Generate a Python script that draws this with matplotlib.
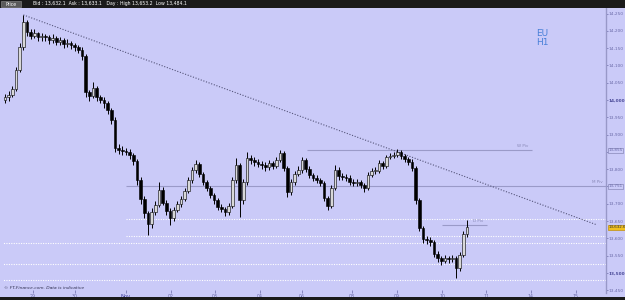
import numpy as np
import matplotlib
matplotlib.use("Agg")
import matplotlib.pyplot as plt
from matplotlib.patches import Rectangle
from matplotlib.transforms import blended_transform_factory

# ----------------------------
# Data (EU, H1 candles, prices x 1e-5)
# ----------------------------
FIRST_OPEN = 14000
closes = [14009, 14014, 14032, 14087, 14153, 14225, 14196, 14185, 14194, 14182,
          14185, 14182, 14173, 14179, 14168, 14173, 14162, 14165, 14159, 14153,
          14145, 14127, 14023, 14012, 14035, 14009, 14000, 13991, 13971, 13942,
          13861, 13855, 13853, 13850, 13841, 13824, 13769, 13714, 13673, 13642,
          13676, 13697, 13740, 13702, 13679, 13659, 13682, 13699, 13714, 13737,
          13769, 13798, 13815, 13786, 13763, 13746, 13725, 13711, 13691, 13685,
          13676, 13694, 13769, 13812, 13711, 13763, 13832, 13827, 13821, 13815,
          13812, 13806, 13818, 13809, 13827, 13847, 13803, 13734, 13763, 13786,
          13798, 13827, 13801, 13783, 13775, 13769, 13760, 13717, 13694, 13746,
          13798, 13780, 13777, 13775, 13763, 13760, 13763, 13754, 13746, 13783,
          13795, 13795, 13818, 13809, 13835, 13838, 13841, 13850, 13838, 13829,
          13821, 13803, 13711, 13630, 13598, 13595, 13590, 13555, 13543, 13535,
          13543, 13540, 13543, 13514, 13552, 13613, 13633]
highs = [14018, 14025, 14040, 14095, 14165, 14246, 14230, 14205, 14205, 14198,
         14195, 14192, 14188, 14190, 14185, 14182, 14178, 14176, 14170, 14165,
         14160, 14152, 14132, 14030, 14052, 14040, 14015, 14008, 13998, 13978,
         13950, 13872, 13866, 13862, 13858, 13848, 13830, 13778, 13722, 13680,
         13688, 13708, 13763, 13748, 13710, 13688, 13692, 13708, 13722, 13745,
         13778, 13806, 13827, 13820, 13792, 13770, 13752, 13732, 13718, 13698,
         13690, 13702, 13778, 13832, 13818, 13772, 13850, 13842, 13835, 13828,
         13825, 13820, 13826, 13824, 13835, 13855, 13852, 13810, 13772, 13795,
         13808, 13836, 13832, 13808, 13790, 13782, 13775, 13766, 13722, 13755,
         13812, 13805, 13790, 13786, 13782, 13772, 13772, 13768, 13760, 13792,
         13803, 13806, 13826, 13824, 13842, 13848, 13850, 13858, 13855, 13845,
         13835, 13828, 13808, 13716, 13636, 13608, 13603, 13596, 13562, 13550,
         13552, 13550, 13553, 13550, 13560, 13620, 13653]
lows = [13992, 13998, 14008, 14025, 14080, 14145, 14185, 14175, 14178, 14170,
        14172, 14170, 14162, 14165, 14158, 14160, 14150, 14152, 14148, 14142,
        14135, 14115, 14010, 13998, 14005, 13998, 13990, 13978, 13960, 13930,
        13850, 13845, 13842, 13840, 13830, 13812, 13755, 13700, 13660, 13610,
        13630, 13668, 13690, 13695, 13668, 13639, 13650, 13675, 13690, 13708,
        13730, 13760, 13790, 13778, 13755, 13738, 13716, 13700, 13682, 13675,
        13665, 13668, 13688, 13760, 13662, 13700, 13755, 13815, 13810, 13805,
        13800, 13795, 13798, 13800, 13802, 13820, 13795, 13720, 13726, 13755,
        13780, 13790, 13792, 13775, 13765, 13760, 13750, 13708, 13682, 13688,
        13740, 13770, 13768, 13765, 13755, 13750, 13752, 13745, 13735, 13740,
        13776, 13785, 13788, 13800, 13803, 13828, 13832, 13835, 13830, 13820,
        13812, 13795, 13700, 13620, 13588, 13585, 13578, 13545, 13532, 13524,
        13528, 13530, 13532, 13484, 13505, 13545, 13605]

day_ticks = [7.6, 19.1, 33.0, 45.3, 57.3, 69.5, 81.0, 94.6, 106.9, 119.2, 131.2, 143.4, 155.7]
day_labels = ["29", "30", "Nov", "02", "03", "04", "06", "08", "09", "10", "11", "14", "15"]
price_ticks = [13450, 13500, 13550, 13600, 13650, 13700, 13750, 13800, 13850,
               13900, 13950, 14000, 14050, 14100, 14150, 14200, 14250]

trend_start = (5, 14246)
trend_end = (161.4, 13639)
w_piv, w_piv_span = 13855, (82.4, 143.7)
m_piv, m_piv_start = 13751, 33.0
d_piv, d_piv_span = 13639, (119.2, 131.5)
dotted_levels_mid = [13656, 13607]      # drawn from ~Nov onwards
dotted_levels_full = [13587, 13526, 13480]
last_price = 13632.6

BG = "#cacaf8"
AXIS_TXT = "#6a6aa8"

# ----------------------------
# Figure
# ----------------------------
fig = plt.figure(figsize=(6.25, 3.0), dpi=100)
fig.patch.set_facecolor(BG)
ax = fig.add_axes([3 / 625, 7 / 300, 603 / 625, 285 / 300])
ax.set_facecolor(BG)

x = np.arange(len(closes))
c = np.array(closes, dtype=float)
o = np.concatenate([[FIRST_OPEN], c[:-1]])
h = np.array(highs, dtype=float)
l = np.array(lows, dtype=float)
up = c >= o

# wicks + bodies
ax.vlines(x, l, h, color="black", lw=0.7, zorder=3)
body_lo = np.minimum(o, c)
body_h = np.maximum(np.abs(c - o), 1.5)
ax.bar(x[up], body_h[up], bottom=body_lo[up], width=0.7, color="#d8d8d8",
       edgecolor="black", linewidth=0.4, zorder=4)
ax.bar(x[~up], body_h[~up], bottom=body_lo[~up], width=0.7, color="black",
       edgecolor="black", linewidth=0.4, zorder=4)

# trend line
ax.plot([trend_start[0], trend_end[0]], [trend_start[1], trend_end[1]],
        color="#55557a", lw=0.8, ls=(0, (1, 1.5)), zorder=2)

# pivots
ax.hlines(w_piv, *w_piv_span, color="#9a9ac8", lw=0.8, zorder=1)
ax.text(w_piv_span[1] - 1, w_piv + 6, "W Piv", fontsize=3, color="#8a8ab8", ha="right", va="bottom")
ax.hlines(m_piv, m_piv_start, 164, color="#9a9ac8", lw=0.8, zorder=1)
ax.text(163, m_piv + 6, "M Piv", fontsize=3, color="#8a8ab8", ha="right", va="bottom")
ax.hlines(d_piv, *d_piv_span, color="#9a9ac8", lw=0.8, zorder=1)
ax.text(d_piv_span[1] - 1, d_piv + 6, "D Piv", fontsize=3, color="#8a8ab8", ha="right", va="bottom")

for lv in dotted_levels_mid:
    ax.hlines(lv, 33.0, 164, color="white", lw=0.8, ls=(0, (1, 1.2)), zorder=1)
for lv in dotted_levels_full:
    ax.hlines(lv, -1, 164, color="white", lw=0.8, ls=(0, (1, 1.2)), zorder=1)

ax.set_xlim(-0.55, 163.9)
ax.set_ylim(13442, 14266)

# axes / ticks
for side in ["top", "left", "bottom"]:
    ax.spines[side].set_visible(False)
ax.spines["right"].set_color("#9898c8")
ax.spines["right"].set_linewidth(1.0)
ax.yaxis.tick_right()
ax.set_yticks(price_ticks)
ax.set_yticklabels([f"{v:,}" for v in price_ticks])
ax.tick_params(axis="y", labelsize=3.1, colors=AXIS_TXT, length=1.5, width=0.5, pad=0.5)
for lbl in ax.get_yticklabels():
    if lbl.get_text() in ("14,000", "13,500"):
        lbl.set_fontweight("bold")
        lbl.set_color("#4a4a98")
ax.set_xticks(day_ticks)
ax.set_xticklabels(day_labels)
ax.tick_params(axis="x", labelsize=3.4, colors=AXIS_TXT, length=2, width=0.5, pad=0.5, direction="in")
for lbl in ax.get_xticklabels():
    if lbl.get_text() == "Nov":
        lbl.set_color("#3a3a9a")
        lbl.set_fontsize(3.8)

# boxed axis labels
yt = blended_transform_factory(ax.transAxes, ax.transData)
box_kw = dict(boxstyle="square,pad=0.15", fc=BG, ec="#8888b8", lw=0.5)
ax.text(1.004, w_piv, "13,855", transform=yt, fontsize=3.0, color=AXIS_TXT, va="center", ha="left",
        bbox=box_kw, zorder=20, clip_on=False)
ax.text(1.004, m_piv, "13,751", transform=yt, fontsize=3.0, color=AXIS_TXT, va="center", ha="left",
        bbox=box_kw, zorder=20, clip_on=False)
ax.text(1.004, last_price, f"{last_price:,.1f}", transform=yt, fontsize=2.9, color="#303030",
        va="center", ha="left",
        bbox=dict(boxstyle="square,pad=0.12", fc="#f0c020", ec="#c09010", lw=0.5), zorder=20, clip_on=False)
for lbl in ax.get_yticklabels():
    if lbl.get_text() in ("13,850", "13,750"):
        lbl.set_visible(False)

# symbol / timeframe
ax.text(0.895, 0.925, "EU\nH1", transform=ax.transAxes, fontsize=6.5, color="#4a80d8",
        ha="center", va="top", linespacing=1.0)

# footer
ax.text(0.002, 0.012, "© FT-Finance.com. Data is indicative", transform=ax.transAxes,
        fontsize=3.2, style="italic", color="#303050", ha="left", va="bottom")

# header / bottom bars
fig.patches.append(Rectangle((0, 292 / 300), 1, 8 / 300, transform=fig.transFigure,
                             fc="#1a1a1a", ec="none", zorder=10))
fig.patches.append(Rectangle((0.002, 293 / 300), 0.032, 6.5 / 300, transform=fig.transFigure,
                             fc="#5a5a5a", ec="#909090", lw=0.4, zorder=11))
fig.text(0.008, 296 / 300, "Price", fontsize=3.3, color="white", va="center", zorder=12)
fig.text(0.053, 296 / 300, "Bid : 13,632.1  Ask : 13,633.1   Day : High 13,653.2  Low 13,484.1",
         fontsize=3.3, color="white", va="center", zorder=12)
fig.patches.append(Rectangle((0, 0), 1, 3 / 300, transform=fig.transFigure,
                             fc="#1a1a1a", ec="none", zorder=10))

fig.savefig("out.png", dpi=100, facecolor=BG)
